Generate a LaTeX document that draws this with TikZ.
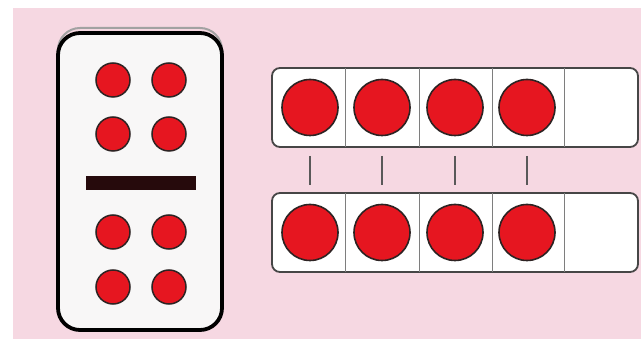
\documentclass[tikz,border=0pt]{standalone}
\usepackage{tikz}
\usetikzlibrary{positioning,calc}
\definecolor{pinkbg}{RGB}{246,216,226}
\definecolor{pipred}{RGB}{230,22,32}
\definecolor{barbrown}{RGB}{38,10,12}
\definecolor{edgegrey}{RGB}{70,70,70}
\definecolor{rimdark}{RGB}{45,35,35}
\definecolor{tilewhite}{RGB}{248,247,247}
\tikzset{
  tile/.style  ={draw=black, line width=3.8pt, fill=tilewhite, rounded corners=22pt},
  pip/.style   ={circle, draw=rimdark, line width=1.5pt, fill=pipred, minimum size=34pt, inner sep=0pt},
  frame/.style ={draw=edgegrey, line width=1.8pt, fill=white, rounded corners=8pt},
  cell/.style  ={draw=edgegrey!70, line width=1pt},
  chip/.style  ={circle, draw=rimdark, line width=1.6pt, fill=pipred, minimum size=56pt, inner sep=0pt},
  tick/.style  ={draw=edgegrey!90, line width=1.3pt},
}
\begin{document}
\begin{tikzpicture}[x=1pt,y=-1pt]
\useasboundingbox (0,0) rectangle (641,339);
\fill[pinkbg] (13,8) rectangle (641,339);

% domino: shadow edge, tile, bar, pips
\draw[draw=edgegrey!50, line width=2pt, rounded corners=22pt] (58,28) rectangle (222,326);
\draw[tile] (58,33) rectangle (222,330);
\fill[barbrown] (86,176) rectangle (196,190);
\foreach \px/\py [count=\i] in {113/80,169/80,113/134,169/134,113/232,169/232,113/287,169/287}
  \node[pip] (p\i) at (\px,\py) {};

% ten frames
\def\yT{68} \def\yB{193} \def\hF{79}
\draw[frame] (272,\yT) rectangle (638,\yT+\hF);
\draw[frame] (272,\yB) rectangle (638,\yB+\hF);
\foreach \cx in {345,419,492,564} {
  \draw[cell] (\cx,\yT) -- (\cx,\yT+\hF);
  \draw[cell] (\cx,\yB) -- (\cx,\yB+\hF);
}
\foreach \cx [count=\i] in {310,382,455,527} {
  \node[chip] (t\i) at (\cx,\yT+\hF/2) {};
  \node[chip] (b\i) at (\cx,\yB+\hF/2) {};
  \coordinate (u\i) at (\cx,156);
  \coordinate (l\i) at (\cx,185);
  \draw[tick] (u\i) -- (l\i);
}
\end{tikzpicture}
\end{document}
